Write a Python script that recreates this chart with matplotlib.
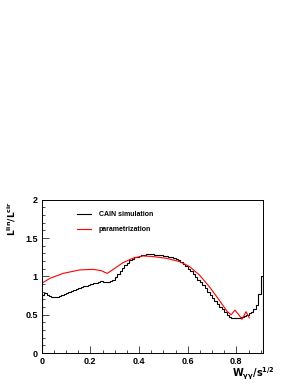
import numpy as np
import matplotlib
matplotlib.use("Agg")
import matplotlib.pyplot as plt
from matplotlib.ticker import MultipleLocator

plt.rcParams['font.family'] = ['Liberation Sans', 'DejaVu Sans']

# CAIN simulation histogram, bin width 0.01 from 0 to 0.91
cain_edges = np.round(np.arange(0, 0.915, 0.01), 3)
cain_vals = [0.76, 0.78, 0.76, 0.74, 0.73, 0.73, 0.735, 0.745, 0.755, 0.765,
             0.78, 0.795, 0.81, 0.825, 0.84, 0.85, 0.86, 0.87, 0.88, 0.89,
             0.90, 0.91, 0.92, 0.93, 0.935, 0.93, 0.93, 0.93, 0.94, 0.96,
             0.99, 1.03, 1.07, 1.11, 1.15, 1.18, 1.21, 1.23, 1.25, 1.26,
             1.27, 1.28, 1.285, 1.29, 1.29, 1.29, 1.285, 1.28, 1.28, 1.275,
             1.27, 1.265, 1.26, 1.25, 1.24, 1.225, 1.21, 1.19, 1.16, 1.13,
             1.10, 1.07, 1.03, 0.995, 0.96, 0.925, 0.885, 0.845, 0.80, 0.76,
             0.72, 0.68, 0.64, 0.605, 0.57, 0.535, 0.50, 0.47, 0.455, 0.455,
             0.455, 0.46, 0.47, 0.48, 0.50, 0.52, 0.54, 0.58, 0.63, 0.77, 1.00]

# parametrization curve
par_x = [0.0, 0.034, 0.088, 0.156, 0.21, 0.244, 0.269, 0.293, 0.334, 0.375,
         0.416, 0.456, 0.51, 0.566, 0.607, 0.648, 0.689, 0.729, 0.763, 0.779,
         0.794, 0.81, 0.823, 0.84, 0.853]
par_y = [0.91, 0.976, 1.04, 1.085, 1.093, 1.076, 1.04, 1.09, 1.18, 1.238,
         1.268, 1.26, 1.238, 1.195, 1.13, 1.02, 0.867, 0.694, 0.54, 0.50,
         0.56, 0.50, 0.44, 0.54, 0.46]

fig = plt.figure(figsize=(3.0, 3.88), dpi=100)
ax = fig.add_axes([0.139, 0.090, 0.738, 0.395])

ax.stairs(cain_vals, cain_edges, color='black', lw=0.8, label='CAIN simulation')
ax.plot(par_x, par_y, color='red', lw=0.8, label='parametrization')

ax.set_xlim(0, 0.91)
ax.set_ylim(0, 2)
ax.xaxis.set_minor_locator(MultipleLocator(0.05))
ax.yaxis.set_minor_locator(MultipleLocator(0.1))
ax.set_xticks([0, 0.2, 0.4, 0.6, 0.8])
ax.set_xticklabels(['0', '0.2', '0.4', '0.6', '0.8'])
ax.set_yticks([0, 0.5, 1, 1.5, 2])
ax.set_yticklabels(['0', '0.5', '1', '1.5', '2'])
ax.tick_params(which='both', direction='in', top=False, right=False,
               labelsize=6.5, width=0.5, pad=3)
ax.tick_params(which='major', length=5)
ax.tick_params(which='minor', length=2.5)
for lab in ax.get_xticklabels() + ax.get_yticklabels():
    lab.set_fontweight('bold')
for s in ax.spines.values():
    s.set_linewidth(0.7)

ax.legend(loc='upper left', bbox_to_anchor=(0.16, 0.925), frameon=False,
          borderaxespad=0, borderpad=0, handlelength=2.0, handletextpad=1.1,
          labelspacing=1.1, prop={'weight': 'bold', 'size': 5})

fig.text(0.04, 0.483, r'$\mathbf{L^{lin}/L^{cir}}$', rotation=90, fontsize=6.5,
         ha='center', va='top')
fig.text(0.775, 0.036, r'$\mathbf{W_{\gamma\gamma}/s^{1/2}}$', fontsize=7,
         ha='left', va='center')

fig.savefig('out.png', dpi=100)
